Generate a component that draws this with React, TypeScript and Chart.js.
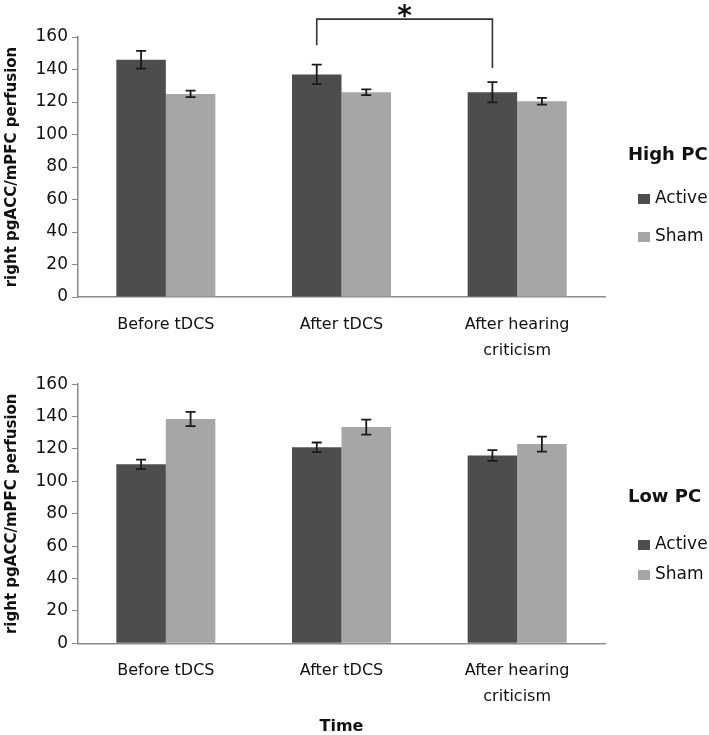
import React, { useEffect, useRef } from "react";
import { Chart, registerables } from "chart.js";

Chart.register(...registerables);

// ---------- data ----------
const categories = [["Before tDCS"], ["After tDCS"], ["After hearing", "criticism"]];
const seriesNames = ["Active", "Sham"];
const panelTitles = ["High PC", "Low PC"];

const highActive = [146, 137, 126];
const highActiveErr = [5.5, 6, 6.2];
const highSham = [125, 126, 120.5];
const highShamErr = [2, 1.8, 2.1];

const lowActive = [110.5, 121, 116];
const lowActiveErr = [2.9, 3, 3.3];
const lowSham = [138.5, 133.5, 123];
const lowShamErr = [4.4, 4.6, 4.6];

const yMin = 0;
const yMax = 160;
const yStep = 20;
const yTitle = "right pgACC/mPFC perfusion";
const xTitle = "Time";

// significance bracket (top panel): categories joined, and levels [left end, top, right end]
const bracketCats = [1, 2];
const bracketLevels = [155, 171, 141];
const bracketLabel = "*";

// ---------- style ----------
const ACTIVE_COLOR = "#4d4d4d";
const SHAM_COLOR = "#a6a6a6";
const AXIS_COLOR = "#8a8a8a";
const TEXT_COLOR = "#111111";
const FONT = "'DejaVu Sans', sans-serif";
const WIDTH = 709;

type PanelProps = {
  active: number[];
  activeErr: number[];
  sham: number[];
  shamErr: number[];
  title: string;
  height: number;
  chartTop: number;
  xAxisHeight: number;
  showXTitle: boolean;
  legendYs: number[];
  bracket: boolean;
};

const errorBarPlugin = {
  id: "errorBars",
  afterDatasetsDraw(chart: any) {
    const ctx = chart.ctx;
    const y = chart.scales.y;
    ctx.save();
    ctx.strokeStyle = "#1a1a1a";
    ctx.lineWidth = 1.8;
    chart.data.datasets.forEach((ds: any, di: number) => {
      const meta = chart.getDatasetMeta(di);
      meta.data.forEach((bar: any, i: number) => {
        const v = ds.data[i];
        const e = ds.errors[i];
        const yt = y.getPixelForValue(v + e);
        const yb = y.getPixelForValue(v - e);
        const x = bar.x;
        const cap = 5;
        ctx.beginPath();
        ctx.moveTo(x, yt);
        ctx.lineTo(x, yb);
        ctx.moveTo(x - cap, yt);
        ctx.lineTo(x + cap, yt);
        ctx.moveTo(x - cap, yb);
        ctx.lineTo(x + cap, yb);
        ctx.stroke();
      });
    });
    ctx.restore();
  },
};

const bracketPlugin = {
  id: "sigBracket",
  afterDraw(chart: any, _args: any, opts: any) {
    if (!opts || !opts.enabled) return;
    const ctx = chart.ctx;
    const y = chart.scales.y;
    const meta = chart.getDatasetMeta(0);
    const x1 = meta.data[bracketCats[0]].x;
    const x2 = meta.data[bracketCats[1]].x;
    const yl = y.getPixelForValue(bracketLevels[0]);
    const yt = y.getPixelForValue(bracketLevels[1]);
    const yr = y.getPixelForValue(bracketLevels[2]);
    ctx.save();
    ctx.strokeStyle = "#333";
    ctx.lineWidth = 1.6;
    ctx.beginPath();
    ctx.moveTo(x1, yl);
    ctx.lineTo(x1, yt);
    ctx.lineTo(x2, yt);
    ctx.lineTo(x2, yr);
    ctx.stroke();
    ctx.fillStyle = TEXT_COLOR;
    ctx.font = `bold 28px ${FONT}`;
    ctx.textAlign = "center";
    ctx.textBaseline = "alphabetic";
    ctx.fillText(bracketLabel, (x1 + x2) / 2, yt + 6);
    ctx.restore();
  },
};

const legendPlugin = {
  id: "sideLegend",
  afterDraw(chart: any, _args: any, opts: any) {
    const ctx = chart.ctx;
    const ys = opts.ys as number[];
    ctx.save();
    ctx.fillStyle = TEXT_COLOR;
    ctx.textAlign = "left";
    ctx.textBaseline = "middle";
    ctx.font = `bold 18px ${FONT}`;
    ctx.fillText(opts.title, 628, ys[0]);
    ctx.font = `17px ${FONT}`;
    chart.data.datasets.forEach((ds: any, i: number) => {
      const cy = ys[i + 1];
      ctx.fillStyle = ds.backgroundColor;
      ctx.fillRect(638, cy - 5, 12, 10);
      ctx.fillStyle = TEXT_COLOR;
      ctx.fillText(ds.label, 655, cy);
    });
    ctx.restore();
  },
};

function Panel(props: PanelProps) {
  const ref = useRef<HTMLCanvasElement>(null);
  useEffect(() => {
    if (!ref.current) return;
    const chart = new Chart(ref.current, {
      type: "bar",
      data: {
        labels: categories,
        datasets: [
          {
            label: seriesNames[0],
            data: props.active,
            errors: props.activeErr,
            backgroundColor: ACTIVE_COLOR,
            borderWidth: 0,
          } as any,
          {
            label: seriesNames[1],
            data: props.sham,
            errors: props.shamErr,
            backgroundColor: SHAM_COLOR,
            borderWidth: 0,
          } as any,
        ],
      },
      options: {
        responsive: false,
        animation: false,
        devicePixelRatio: 1,
        datasets: {
          bar: { categoryPercentage: 0.5636, barPercentage: 1 },
        },
        layout: {
          padding: { top: props.chartTop, right: WIDTH - 605, bottom: 0, left: 0 },
        },
        plugins: {
          legend: { display: false },
          tooltip: { enabled: false },
          sideLegend: { title: props.title, ys: props.legendYs },
          sigBracket: { enabled: props.bracket },
        } as any,
        scales: {
          x: {
            grid: { display: false, drawTicks: false },
            border: { display: true, color: AXIS_COLOR, width: 1.5 },
            ticks: {
              color: TEXT_COLOR,
              font: { family: FONT, size: 16, lineHeight: 1.6 },
              padding: 15,
              maxRotation: 0,
              autoSkip: false,
            },
            title: {
              display: props.showXTitle,
              text: xTitle,
              color: TEXT_COLOR,
              font: { family: FONT, size: 16, weight: "bold", lineHeight: 1 },
              padding: { top: 0, bottom: 0 },
            },
            afterFit: (scale: any) => {
              scale.height = props.xAxisHeight;
            },
          },
          y: {
            min: yMin,
            max: yMax,
            grid: {
              display: true,
              drawOnChartArea: false,
              drawTicks: true,
              tickLength: 6,
              color: AXIS_COLOR,
            },
            border: { display: true, color: AXIS_COLOR, width: 1.5 },
            ticks: {
              stepSize: yStep,
              color: TEXT_COLOR,
              font: { family: FONT, size: 17 },
              padding: 4,
            },
            title: {
              display: true,
              text: yTitle,
              color: TEXT_COLOR,
              font: { family: FONT, size: 15, weight: "bold" },
              padding: { top: 3, bottom: 0 },
            },
            afterFit: (scale: any) => {
              scale.width = 78;
            },
          },
        },
      },
      plugins: [errorBarPlugin, bracketPlugin, legendPlugin],
    });
    return () => chart.destroy();
  }, []);
  return (
    <canvas
      ref={ref}
      width={WIDTH}
      height={props.height}
      style={{ display: "block", width: WIDTH, height: props.height }}
    />
  );
}

export default function App() {
  return (
    <div
      style={{
        position: "absolute",
        left: 0,
        top: 0,
        width: WIDTH,
        height: 735,
        background: "#fff",
        overflow: "hidden",
      }}
    >
      <Panel
        active={highActive}
        activeErr={highActiveErr}
        sham={highSham}
        shamErr={highShamErr}
        title={panelTitles[0]}
        height={370}
        chartTop={37}
        xAxisHeight={73}
        showXTitle={false}
        legendYs={[155, 199, 237]}
        bracket={true}
      />
      <Panel
        active={lowActive}
        activeErr={lowActiveErr}
        sham={lowSham}
        shamErr={lowShamErr}
        title={panelTitles[1]}
        height={365}
        chartTop={13.3}
        xAxisHeight={91.7}
        showXTitle={true}
        legendYs={[127, 175, 205]}
        bracket={false}
      />
    </div>
  );
}
